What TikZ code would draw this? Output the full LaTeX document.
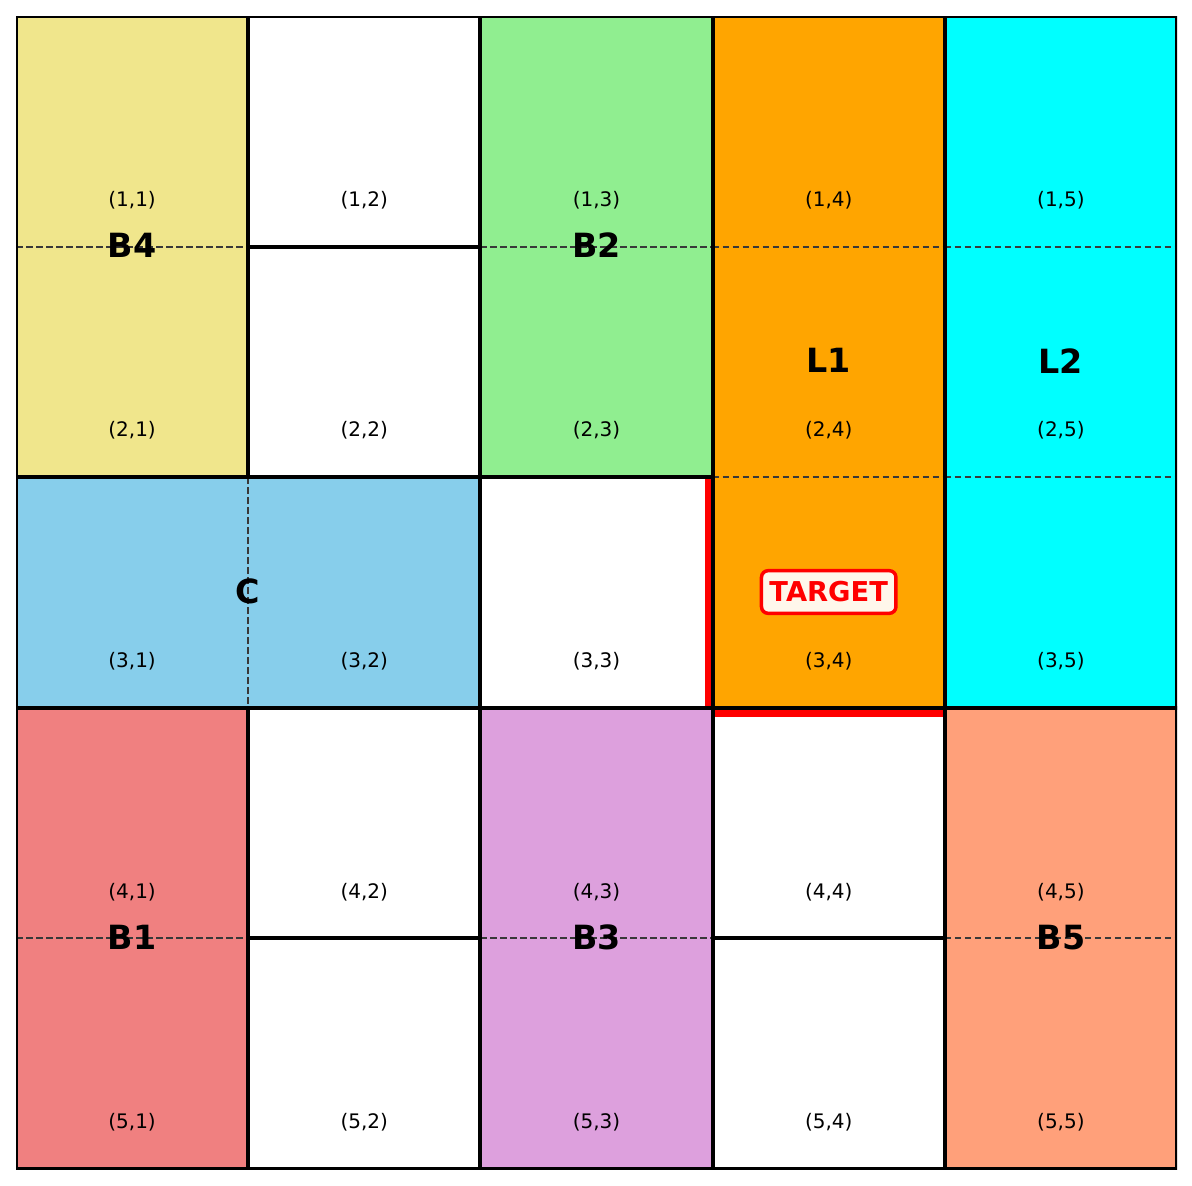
\documentclass[tikz,border=0pt]{standalone}
\usepackage{fontspec}
\setmainfont{DejaVu Sans}
\definecolor{khaki}{HTML}{F0E68C}
\definecolor{lgreen}{HTML}{90EE90}
\definecolor{orng}{HTML}{FFA500}
\definecolor{cyn}{HTML}{00FFFF}
\definecolor{skyb}{HTML}{87CEEB}
\definecolor{lcoral}{HTML}{F08080}
\definecolor{plm}{HTML}{DDA0DD}
\definecolor{lsalmon}{HTML}{FFA07A}
\begin{document}
\begin{tikzpicture}[x=0.75pt,y=-0.75pt,
  blk/.style={draw=black,line width=3pt},
  dsh/.style={draw=black!78,line width=1.5pt,dash pattern=on 5pt off 2.5pt},
  redln/.style={draw=red,line width=#1},
  lab/.style={font=\fontsize{15}{18}\selectfont,text=black,inner sep=0pt},
  big/.style={font=\fontsize{25}{30}\selectfont\bfseries,text=black,inner sep=0pt},
  tgt/.style={draw=red,line width=2.6pt,rounded corners=5pt,fill=white,fill opacity=0.92,text opacity=1,
    text=red,font=\fontsize{20.5}{24}\selectfont\bfseries,inner xsep=6pt,minimum height=32pt}]
\useasboundingbox (0,0) rectangle (1192,1185);
\begin{scope}
\clip (16,16) rectangle (1177,1169);
% fills
\fill[khaki]   (16,16) rectangle (248.2,477.2);
\fill[white]   (248.2,16) rectangle (480.4,477.2);
\fill[lgreen]  (480.4,16) rectangle (712.6,477.2);
\fill[orng]    (712.6,16) rectangle (944.8,707.8);
\fill[cyn]     (944.8,16) rectangle (1177,707.8);
\fill[skyb]    (16,477.2) rectangle (480.4,707.8);
\fill[white]   (480.4,477.2) rectangle (712.6,707.8);
\fill[lcoral]  (16,707.8) rectangle (248.2,1169);
\fill[white]   (248.2,707.8) rectangle (480.4,1169);
\fill[plm]     (480.4,707.8) rectangle (712.6,1169);
\fill[white]   (712.6,707.8) rectangle (944.8,1169);
\fill[lsalmon] (944.8,707.8) rectangle (1177,1169);
% dashed internal lines
\draw[dsh] (16,246.6) -- (248.2,246.6);
\draw[dsh] (480.4,246.6) -- (712.6,246.6);
\draw[dsh] (712.6,246.6) -- (944.8,246.6);
\draw[dsh] (712.6,477.2) -- (944.8,477.2);
\draw[dsh] (944.8,246.6) -- (1177,246.6);
\draw[dsh] (944.8,477.2) -- (1177,477.2);
\draw[dsh] (248.2,477.2) -- (248.2,707.8);
\draw[dsh] (16,938.4) -- (248.2,938.4);
\draw[dsh] (480.4,938.4) -- (712.6,938.4);
\draw[dsh] (944.8,938.4) -- (1177,938.4);
% red target edges
\draw[redln=4.5pt] (707.5,477.2) -- (707.5,707.8);
\draw[redln=5.5pt] (712.6,713) -- (944.8,713);
% block borders
\draw[blk] (16,16) rectangle (248.2,477.2);
\draw[blk] (248.2,16) rectangle (480.4,246.6);
\draw[blk] (248.2,246.6) rectangle (480.4,477.2);
\draw[blk] (480.4,16) rectangle (712.6,477.2);
\draw[blk] (712.6,16) rectangle (944.8,707.8);
\draw[blk] (944.8,16) rectangle (1177,707.8);
\draw[blk] (16,477.2) rectangle (480.4,707.8);
\draw[blk] (480.4,477.2) rectangle (712.6,707.8);
\draw[blk] (16,707.8) rectangle (248.2,1169);
\draw[blk] (248.2,707.8) rectangle (480.4,938.4);
\draw[blk] (248.2,938.4) rectangle (480.4,1169);
\draw[blk] (480.4,707.8) rectangle (712.6,1169);
\draw[blk] (712.6,707.8) rectangle (944.8,938.4);
\draw[blk] (712.6,938.4) rectangle (944.8,1169);
\draw[blk] (944.8,707.8) rectangle (1177,1169);
\end{scope}
% cell labels
\foreach \r in {1,...,5}{
  \foreach \c in {1,...,5}{
    \node[lab] (l\r\c) at ({16+232.2*(\c-0.5)},{16+230.6*(\r-1)+184}) {(\r,\c)};
  }
}
% block labels
\node[big] (b4) at (132.1,245.4) {B4};
\node[big] (b2) at (596.5,245.4) {B2};
\node[big] (l1) at (828.7,360.7) {L1};
\node[big] (l2) at (1060.9,360.7) {L2};
\node[big] (c)  at (248.2,591.3) {C};
\node[big] (b1) at (132.1,937.2) {B1};
\node[big] (b3) at (596.5,937.2) {B3};
\node[big] (b5) at (1060.9,937.2) {B5};
\node[tgt] (target) at (828.7,592) {TARGET};
\end{tikzpicture}
\end{document}
